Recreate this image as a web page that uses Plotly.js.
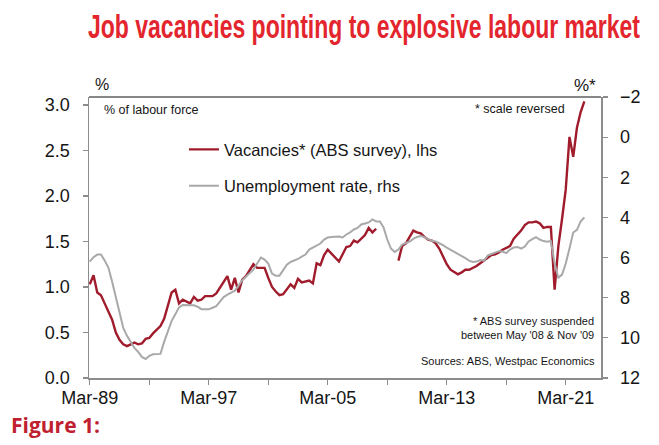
<!DOCTYPE html>
<html>
<head>
<meta charset="utf-8">
<script src="https://cdn.plot.ly/plotly-3.0.1.min.js"></script>
<style>
  html, body { margin: 0; padding: 0; background: #ffffff; }
  #chart { width: 659px; height: 445px; }
</style>
</head>
<body>
<div id="chart"></div>
<script>
// Quarterly observations starting Mar-1989 (Mar, Jun, Sep, Dec)
const firstYear = 1989;
const quarterMonths = ['03', '06', '09', '12'];

// Job vacancies, % of labour force (ABS survey) - left axis; null = survey suspended
const vacancies = [
  1.03, 1.13, 0.94, 0.91, 0.82, 0.73, 0.64, 0.50, 0.42, 0.37,
  0.35, 0.37, 0.39, 0.37, 0.38, 0.43, 0.44, 0.49, 0.53, 0.57,
  0.65, 0.80, 0.94, 0.97, 0.82, 0.86, 0.84, 0.82, 0.89, 0.85,
  0.86, 0.90, 0.90, 0.90, 0.93, 0.99, 1.05, 1.12, 0.97, 1.10,
  0.94, 1.08, 1.12, 1.18, 1.25, 1.21, 1.21, 1.21, 1.10, 1.00,
  0.95, 0.91, 0.92, 0.98, 1.03, 0.99, 1.09, 1.05, 1.06, 1.07,
  1.04, 1.26, 1.24, 1.35, 1.41, 1.37, 1.33, 1.28, 1.36, 1.44,
  1.45, 1.51, 1.49, 1.53, 1.57, 1.65, 1.60, 1.64, null, null,
  null, null, null, 1.29, 1.45, 1.48, 1.55, 1.62, 1.60, 1.59,
  1.55, 1.52, 1.51, 1.48, 1.42, 1.34, 1.25, 1.19, 1.16, 1.14,
  1.16, 1.19, 1.19, 1.21, 1.23, 1.26, 1.29, 1.32, 1.35, 1.36,
  1.38, 1.41, 1.43, 1.45, 1.53, 1.57, 1.62, 1.68, 1.71, 1.71,
  1.72, 1.70, 1.65, 1.66, 1.66, 0.97, 1.45, 1.75, 2.07, 2.65,
  2.43, 2.75, 2.92, 3.04
];

// Unemployment rate, % - right axis (reversed)
const unemployment = [
  6.20, 5.98, 5.85, 5.85, 6.15, 6.50, 7.20, 8.00, 8.85, 9.50,
  9.90, 10.20, 10.50, 10.70, 10.95, 11.05, 10.90, 10.82, 10.80, 10.80,
  10.20, 9.65, 9.15, 8.82, 8.48, 8.36, 8.36, 8.36, 8.38, 8.45,
  8.57, 8.58, 8.58, 8.50, 8.42, 8.20, 7.97, 7.85, 7.75, 7.65,
  7.40, 7.13, 6.95, 6.78, 6.60, 6.30, 6.00, 6.10, 6.30, 6.80,
  6.90, 6.90, 6.60, 6.35, 6.22, 6.15, 6.07, 5.95, 5.85, 5.60,
  5.50, 5.40, 5.30, 5.10, 5.00, 4.98, 4.96, 4.95, 5.00, 4.85,
  4.75, 4.60, 4.52, 4.35, 4.30, 4.25, 4.10, 4.20, 4.20, 4.50,
  5.10, 5.55, 5.72, 5.60, 5.35, 5.27, 5.20, 5.07, 4.97, 4.93,
  4.98, 5.08, 5.16, 5.20, 5.28, 5.38, 5.50, 5.60, 5.72, 5.82,
  5.93, 6.03, 6.15, 6.22, 6.20, 6.12, 6.15, 5.90, 5.82, 5.75,
  5.68, 5.70, 5.78, 5.60, 5.50, 5.47, 5.55, 5.45, 5.20, 5.08,
  4.98, 5.10, 5.18, 5.21, 5.17, 6.30, 7.00, 6.85, 6.30, 5.55,
  4.75, 4.62, 4.21, 4.00
];

const leftTicks = [0, 0.5, 1.0, 1.5, 2.0, 2.5, 3.0];
const rightTicks = [-2, 0, 2, 4, 6, 8, 10, 12];

const quarters = vacancies.map(function (_, i) {
  return (firstYear + Math.floor(i / 4)) + '-' + quarterMonths[i % 4] + '-01';
});

const baseFont = 'Liberation Sans, Arial, sans-serif';
const axisGrey = '#8c8c8c';
const textCol = '#151515';

const traces = [
  {
    x: quarters, y: vacancies, type: 'scatter', mode: 'lines',
    name: 'Vacancies* (ABS survey), lhs', legendgroup: 'a',
    line: { color: '#a01c2c', width: 2.4 }, connectgaps: false, yaxis: 'y'
  },
  {
    x: quarters, y: unemployment, type: 'scatter', mode: 'lines',
    name: 'Unemployment rate, rhs', legendgroup: 'b',
    line: { color: '#a9a9a9', width: 2 }, yaxis: 'y2'
  }
];

const layout = {
  width: 659, height: 445,
  margin: { l: 89, r: 58, t: 97, b: 67 },
  paper_bgcolor: '#ffffff', plot_bgcolor: '#ffffff',
  font: { family: baseFont, color: textCol },
  title: {
    text: 'Job vacancies pointing to explosive labour market',
    font: { family: 'Liberation Sans, Arial, sans-serif', size: 23, weight: 700, color: '#e3262e' },
    xref: 'container', x: 364 / 659, xanchor: 'center',
    yref: 'container', y: 0.94, yanchor: 'middle'
  },
  showlegend: true,
  legend: {
    x: 0.1855, xanchor: 'left', y: 0.875, yanchor: 'top',
    font: { size: 16.5, family: baseFont, color: textCol },
    bgcolor: 'rgba(0,0,0,0)', tracegroupgap: 12, itemwidth: 30
  },
  xaxis: {
    type: 'date',
    range: ['1989-02-10', '2023-07-15'],
    tick0: '1989-03-01', dtick: 'M96', tickformat: '%b-%y',
    ticks: 'outside', ticklen: 5, tickcolor: axisGrey, tickwidth: 1.2,
    minor: { dtick: 'M48', tick0: '1989-03-01', ticks: 'outside', ticklen: 5, tickcolor: axisGrey, tickwidth: 1.2, showgrid: false },
    showline: true, linecolor: axisGrey, linewidth: 1.5,
    showgrid: false, zeroline: false,
    tickfont: { size: 18, color: textCol }, ticklabelstandoff: -2
  },
  yaxis: {
    range: [0, 3.088], tickvals: leftTicks, tickformat: '.1f',
    ticks: 'outside', ticklen: 5, tickcolor: axisGrey, tickwidth: 1.2,
    showline: true, linecolor: axisGrey, linewidth: 1.5,
    showgrid: false, zeroline: false,
    tickfont: { size: 18, color: textCol }, ticklabelstandoff: 9
  },
  yaxis2: {
    overlaying: 'y', side: 'right',
    range: [12, -2], tickvals: rightTicks,
    ticks: 'outside', ticklen: 5, tickcolor: axisGrey, tickwidth: 1.2,
    showline: true, linecolor: axisGrey, linewidth: 1.5,
    showgrid: false, zeroline: false,
    tickfont: { size: 18, color: textCol }, ticklabelstandoff: 9
  },
  shapes: [
    { type: 'line', xref: 'paper', yref: 'paper', x0: 0, x1: 1, y0: 1, y1: 1,
      line: { color: '#111111', width: 1.2 } }
  ],
  annotations: [
    { text: '%', xref: 'paper', yref: 'paper', x: 0.008, y: 1, xanchor: 'left', yanchor: 'middle', yshift: 13, showarrow: false, font: { size: 16 } },
    { text: '%*', xref: 'paper', yref: 'paper', x: 0.994, y: 1, xanchor: 'right', yanchor: 'middle', yshift: 12, showarrow: false, font: { size: 17 } },
    { text: '% of labour force', xref: 'paper', yref: 'paper', x: 0.026, y: 0.953, xanchor: 'left', yanchor: 'middle', showarrow: false, font: { size: 12.5 } },
    { text: '* scale reversed', xref: 'paper', yref: 'paper', x: 0.933, y: 0.957, xanchor: 'right', yanchor: 'middle', showarrow: false, font: { size: 12.5 } },
    { text: '* ABS survey suspended', xref: 'paper', yref: 'paper', x: 0.99, y: 0.204, xanchor: 'right', yanchor: 'middle', showarrow: false, font: { size: 11 } },
    { text: "between May '08 & Nov '09", xref: 'paper', yref: 'paper', x: 0.99, y: 0.153, xanchor: 'right', yanchor: 'middle', showarrow: false, font: { size: 11 } },
    { text: 'Sources: ABS, Westpac Economics', xref: 'paper', yref: 'paper', x: 0.992, y: 0.060, xanchor: 'right', yanchor: 'middle', showarrow: false, font: { size: 11 } },
    { text: '<b>Figure 1:</b>', xref: 'paper', yref: 'paper', x: -0.156, y: -0.167, xanchor: 'left', yanchor: 'middle', showarrow: false, font: { size: 21, color: '#c01f30', family: 'Open Sans, Liberation Sans, Arial, sans-serif' } }
  ]
};

Plotly.newPlot('chart', traces, layout, { displayModeBar: false, staticPlot: true }).then(function (gd) {
  // stretch the headline vertically to mimic the reference's tall condensed letterforms
  const t = gd.querySelector('.gtitle');
  if (t) {
    const bb = t.getBBox();
    const cy = bb.y + bb.height / 2;
    const prev = t.getAttribute('transform') || '';
    t.setAttribute('transform', (prev + ' translate(0,' + cy + ') scale(1,1.42) translate(0,' + (-cy) + ')').trim());
  }
});
</script>
</body>
</html>
